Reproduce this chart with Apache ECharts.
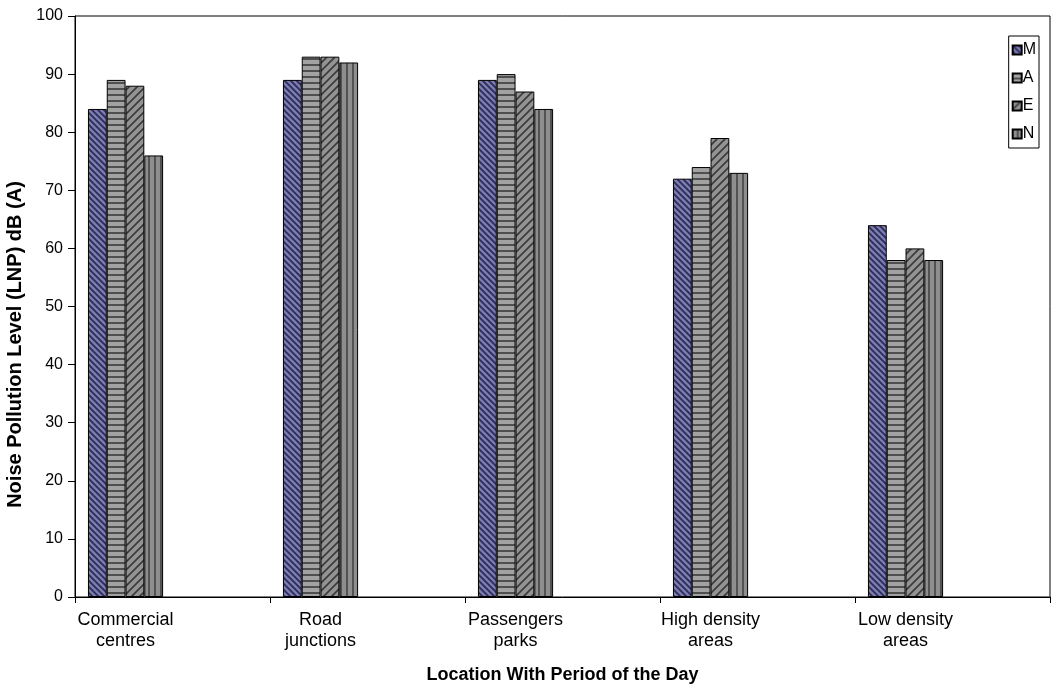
<!DOCTYPE html>
<html><head><meta charset="utf-8">
<script src="https://cdn.jsdelivr.net/npm/echarts@6/dist/echarts.min.js"></script>
<style>html,body{margin:0;padding:0;background:#fff}#c{width:1061px;height:687px}</style>
</head><body><div id="c"></div>
<script>
const categories = ['Commercial\ncentres','Road\njunctions','Passengers\nparks','High density\nareas','Low density\nareas'];
const seriesNames = ['M','A','E','N'];
const valuesM = [84, 89, 89, 72, 64];
const valuesA = [89, 93, 90, 74, 58];
const valuesE = [88, 93, 87, 79, 60];
const valuesN = [76, 92, 84, 73, 58];

function pattern(kind){
  const c = document.createElement('canvas');
  const s = kind==='M'?6:(kind==='E'?8:6);
  c.width = s; c.height = s;
  const g = c.getContext('2d');
  if(kind==='M'){
    g.fillStyle='#7c7cb0'; g.fillRect(0,0,s,s);
    g.strokeStyle='#2c2c58'; g.lineWidth=1.8;
    g.beginPath();
    g.moveTo(0,0); g.lineTo(s,s);
    g.moveTo(-s,0); g.lineTo(s,2*s);
    g.moveTo(0,-s); g.lineTo(2*s,s);
    g.stroke();
  } else if(kind==='A'){
    g.fillStyle='#a2a2a2'; g.fillRect(0,0,s,s);
    g.strokeStyle='#333'; g.lineWidth=1.5;
    g.beginPath(); g.moveTo(0,s-1); g.lineTo(s,s-1); g.stroke();
  } else if(kind==='E'){
    g.fillStyle='#939393'; g.fillRect(0,0,s,s);
    g.strokeStyle='#3a3a3a'; g.lineWidth=1.6;
    g.beginPath();
    g.moveTo(0,s); g.lineTo(s,0);
    g.moveTo(-s,s); g.lineTo(s,-s);
    g.moveTo(0,2*s); g.lineTo(2*s,0);
    g.stroke();
  } else {
    g.fillStyle='#8e8e8e'; g.fillRect(0,0,s,s);
    g.strokeStyle='#3a3a3a'; g.lineWidth=1.4;
    g.beginPath(); g.moveTo(s-1,0); g.lineTo(s-1,s); g.stroke();
  }
  return {image:c, repeat:'repeat'};
}

const dataSets = [valuesM, valuesA, valuesE, valuesN];
const series = dataSets.map((d,i)=>({
  name: seriesNames[i], type:'bar', data:d,
  barGap:0, barCategoryGap:'13.3%',
  itemStyle:{color:pattern(seriesNames[i]), borderColor:'#000', borderWidth:1}
}));
// empty slots to reproduce the left-aligned bar groups of the original
for(let k=0;k<5;k++) series.push({name:'_'+k, type:'bar', data:[], barGap:0, barCategoryGap:'13.3%'});

const FF = 'Liberation Sans, Arial, sans-serif';
const chart = echarts.init(document.getElementById('c'));
chart.setOption({
  animation:false,
  textStyle:{fontFamily:FF},
  grid:{left:75, right:11, top:16, bottom:90, show:true, borderColor:'#000', borderWidth:1,
        containLabel:false, outerBoundsMode:'none'},
  legend:{
    data:seriesNames, orient:'vertical', right:22, top:36, icon:'rect',
    itemWidth:9, itemHeight:9, itemGap:12,
    textStyle:{fontSize:16, color:'#000', fontFamily:FF, padding:[0,0,0,-4]},
    borderColor:'#000', borderWidth:1, padding:[6,3,6,3], backgroundColor:'#fff'
  },
  xAxis:{
    type:'category', data:categories,
    name:'Location With Period of the Day', nameLocation:'middle', nameGap:69,
    nameTextStyle:{fontSize:18, fontWeight:'bold', color:'#000', fontFamily:FF},
    axisLine:{lineStyle:{color:'#000', width:1}},
    axisTick:{show:true, alignWithLabel:false, length:6, lineStyle:{color:'#000'}},
    axisLabel:{fontSize:18, color:'#000', lineHeight:21, margin:13, padding:[0,94,0,0], fontFamily:FF}
  },
  yAxis:{
    type:'value', min:0, max:100, interval:10,
    name:'Noise Pollution Level (LNP) dB (A)', nameLocation:'middle', nameGap:47,
    nameTextStyle:{fontSize:20, fontWeight:'bold', color:'#000', fontFamily:FF, padding:[0,76,0,0]},
    axisLine:{show:true, lineStyle:{color:'#000', width:1}},
    axisTick:{show:true, length:7, lineStyle:{color:'#000'}},
    axisLabel:{fontSize:16, color:'#000', margin:12, fontFamily:FF},
    splitLine:{show:false}
  },
  series: series
});
</script></body></html>
